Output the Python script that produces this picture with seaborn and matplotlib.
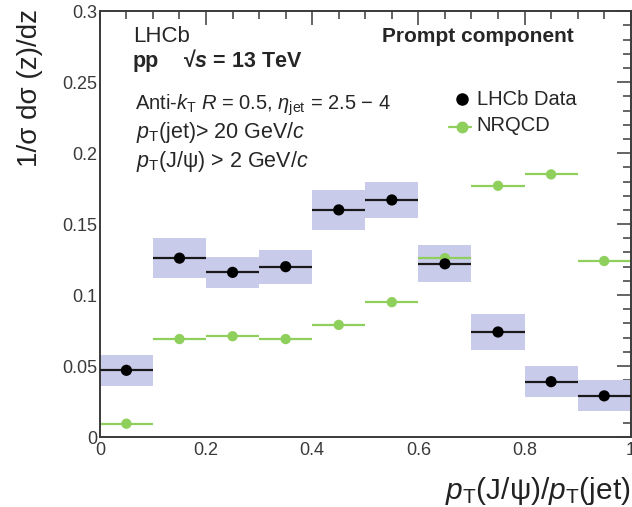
import numpy as np
import matplotlib
matplotlib.use("Agg")
import matplotlib.pyplot as plt
from matplotlib.ticker import MultipleLocator
import seaborn as sns

# binned z = pT(J/psi)/pT(jet)
z_centres = [0.05, 0.15, 0.25, 0.35, 0.45, 0.55, 0.65, 0.75, 0.85, 0.95]
lhcb_vals = [0.047, 0.126, 0.116, 0.120, 0.160, 0.167, 0.122, 0.074, 0.039, 0.029]
lhcb_lo = [0.036, 0.112, 0.105, 0.108, 0.146, 0.154, 0.109, 0.061, 0.028, 0.018]
lhcb_hi = [0.058, 0.140, 0.127, 0.132, 0.174, 0.180, 0.135, 0.087, 0.050, 0.040]
nrqcd_vals = [0.0094, 0.069, 0.071, 0.069, 0.079, 0.095, 0.126, 0.177, 0.185, 0.124]
bin_half = 0.05

sns.set_style("white")
plt.rcParams['font.family'] = ['Liberation Sans', 'DejaVu Sans']
plt.rcParams['mathtext.fontset'] = 'custom'
plt.rcParams['mathtext.rm'] = 'Liberation Sans'
plt.rcParams['mathtext.it'] = 'Liberation Sans:italic'
plt.rcParams['mathtext.bf'] = 'Liberation Sans:bold'
plt.rcParams['mathtext.bfit'] = 'Liberation Sans:italic:bold'

green = '#8fcf5c'
box = '#c9cbea'
dark = '#3a3a3a'

fig = plt.figure(figsize=(6.32, 5.07), dpi=100)
ax = fig.add_axes([0.158, 0.138, 0.84, 0.840])

# systematic boxes
ax.bar(z_centres, np.array(lhcb_hi) - np.array(lhcb_lo), bottom=lhcb_lo,
       width=2 * bin_half, color=box, edgecolor='none', zorder=1)

# NRQCD
ax.errorbar(z_centres, nrqcd_vals, xerr=bin_half, fmt='none', ecolor=green,
            elinewidth=1.6, capsize=0, zorder=2)
sns.scatterplot(x=z_centres, y=nrqcd_vals, ax=ax, color=green, s=55,
                edgecolor='none', zorder=3)

# data
ax.errorbar(z_centres, lhcb_vals, xerr=bin_half, fmt='none', ecolor='#1a1a1a',
            elinewidth=1.6, capsize=0, zorder=4)
sns.scatterplot(x=z_centres, y=lhcb_vals, ax=ax, color='black', s=65,
                edgecolor='none', zorder=5)

ax.set_xlim(0, 1)
ax.set_ylim(0, 0.3)
ax.xaxis.set_major_locator(MultipleLocator(0.2))
ax.xaxis.set_minor_locator(MultipleLocator(0.05))
ax.yaxis.set_major_locator(MultipleLocator(0.05))
ax.yaxis.set_minor_locator(MultipleLocator(0.01))
ax.tick_params(which='both', direction='in', top=True, right=True,
               colors=dark, labelsize=13, width=1.1)
ax.tick_params(which='major', length=10)
ax.tick_params(which='minor', length=5.5)
ax.tick_params(axis='y', pad=2)
ax.set_xticks([0, 0.2, 0.4, 0.6, 0.8, 1.0])
ax.set_xticklabels(['0', '0.2', '0.4', '0.6', '0.8', '1'])
ax.set_yticks([0, 0.05, 0.1, 0.15, 0.2, 0.25, 0.3])
ax.set_yticklabels(['0', '0.05', '0.1', '0.15', '0.2', '0.25', '0.3'])
for sp in ax.spines.values():
    sp.set_color(dark)
    sp.set_linewidth(1.4)

ax.set_ylabel('1/σ dσ (z)/dz', fontsize=20, color='#222222')
ax.yaxis.set_label_coords(-0.107, 0.82)
ax.set_xlabel(r'$p_{\mathrm{T}}$(J/ψ)/$p_{\mathrm{T}}$(jet)', fontsize=21.5,
              color='#222222', ha='right')
ax.xaxis.set_label_coords(1.0, -0.09)

ax.text(0.062, 0.278, 'LHCb', fontsize=16, va='baseline')
ax.text(0.062, 0.2606, 'pp', fontsize=15.5, fontweight='bold', va='baseline')
ax.text(0.156, 0.2606, r'√$\mathbfit{s}$ = 13 TeV', fontsize=15.5,
        fontweight='bold', va='baseline')
ax.text(0.531, 0.278, 'Prompt component', fontsize=15, fontweight='bold',
        va='baseline')
ax.text(0.066, 0.2303, r'Anti-$k_{\mathrm{T}}$ $R$ = 0.5, $\eta_{\mathrm{jet}}$ = 2.5 $-$ 4',
        fontsize=14.5, va='baseline')
ax.text(0.069, 0.2106, r'$p_{\mathrm{T}}$(jet)> 20 GeV/$c$', fontsize=15.5,
        va='baseline')
ax.text(0.069, 0.190, r'$p_{\mathrm{T}}$(J/ψ) > 2 GeV/$c$', fontsize=15.5,
        va='baseline')

# legend entries
ax.plot([0.682], [0.238], 'o', color='black', ms=8)
ax.text(0.710, 0.2338, 'LHCb Data', fontsize=14.5, va='baseline')
ax.plot([0.657, 0.70], [0.2183, 0.2183], '-', color=green, lw=1.6)
ax.plot([0.682], [0.2183], 'o', color=green, ms=7.5)
ax.text(0.710, 0.2155, 'NRQCD', fontsize=14.5, va='baseline')

fig.savefig('out.png', dpi=100)
